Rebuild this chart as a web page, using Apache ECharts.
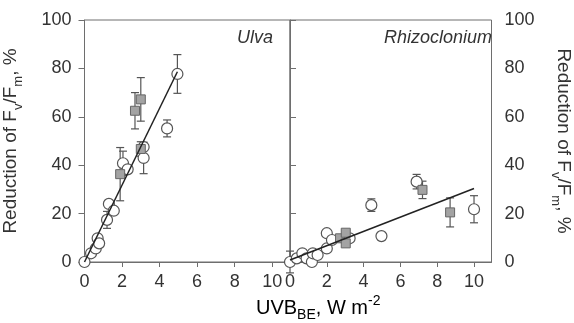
<!DOCTYPE html>
<html>
<head>
<meta charset="utf-8">
<script src="https://cdn.jsdelivr.net/npm/echarts@6/dist/echarts.min.js"></script>
<style>
html,body{margin:0;padding:0;background:#fff;}
#chart{width:574px;height:323px;}
</style>
</head>
<body>
<div id="chart"></div>
<script>
// ---- data ----
const xTicks = [0, 2, 4, 6, 8, 10];

// Ulva – circles
const ulvaCircleX   = [0, 0.35, 0.6, 0.7, 0.78, 1.2, 1.3, 1.56, 2.05, 2.3, 3.15, 3.15, 4.4, 4.95];
const ulvaCircleY   = [0, 3.6, 5.6, 9.8, 7.7, 17.4, 24, 21.2, 40.8, 38.3, 47.5, 43.0, 55.2, 77.7];
const ulvaCircleErr = [0, 0, 0, 0, 0, 3.5, 0, 0, 5, 0, 0, 6.5, 3.5, 8];
// Ulva – squares
const ulvaSquareX   = [1.9, 2.69, 3.0, 3.0];
const ulvaSquareY   = [36.3, 62.5, 67.2, 46.7];
const ulvaSquareErr = [11, 7.5, 9, 3];
// Ulva – regression line
const ulvaFitX = [0, 4.95];
const ulvaFitY = [0, 78.6];

// Rhizoclonium – circles
const rhizoCircleX   = [0, 0.37, 0.67, 0.9, 1.19, 1.24, 1.5, 2.0, 2.0, 2.28, 3.24, 4.97, 4.42, 6.88, 10.0];
const rhizoCircleY   = [0, 1.5, 3.6, 1.5, 0, 3.6, 2.9, 5.6, 11.9, 9.1, 9.8, 10.7, 23.5, 33.2, 21.8];
const rhizoCircleErr = [4.5, 0, 0, 0, 0, 0, 0, 0, 0, 0, 0, 0, 2.6, 3, 5.6];
// Rhizoclonium – squares
const rhizoSquareX   = [2.72, 3.03, 3.03, 7.2, 8.7];
const rhizoSquareY   = [9.8, 12.1, 7.7, 29.8, 20.5];
const rhizoSquareErr = [0, 0, 0, 3.6, 6];
// Rhizoclonium – regression line
const rhizoFitX = [0, 10];
const rhizoFitY = [0.8, 30.4];

const yTicksMin = 0, yTicksMax = 100, yTicksStep = 20;

// ---- chart ----
const FONT = '"Liberation Sans", Arial, Helvetica, sans-serif';
const AXIS_COLOR = '#6e6e6e';
const TEXT_COLOR = '#333';

function pts(xs, ys) { return xs.map((x, i) => [x, ys[i]]); }
function errData(xs, ys, es) {
  const out = [];
  xs.forEach((x, i) => { if (es[i] > 0) out.push([x, ys[i] - es[i], ys[i] + es[i]]); });
  return out;
}
function errSeries(xs, ys, es, gi) {
  return {
    type: 'custom', xAxisIndex: gi, yAxisIndex: gi, z: 2, clip: false,
    data: errData(xs, ys, es),
    encode: { x: 0, y: [1, 2] },
    renderItem: function (params, api) {
      const x = api.value(0);
      const lo = api.coord([x, api.value(1)]);
      const hi = api.coord([x, api.value(2)]);
      const w = 4;
      const st = { stroke: '#555', lineWidth: 1.2 };
      return {
        type: 'group',
        children: [
          { type: 'line', shape: { x1: lo[0], y1: lo[1], x2: hi[0], y2: hi[1] }, style: st },
          { type: 'line', shape: { x1: hi[0] - w, y1: hi[1], x2: hi[0] + w, y2: hi[1] }, style: st },
          { type: 'line', shape: { x1: lo[0] - w, y1: lo[1], x2: lo[0] + w, y2: lo[1] }, style: st }
        ]
      };
    }
  };
}
function circleSeries(xs, ys, gi) {
  return {
    type: 'scatter', xAxisIndex: gi, yAxisIndex: gi, z: 3, clip: false,
    symbol: 'circle', symbolSize: 11,
    itemStyle: { color: '#fff', borderColor: '#555', borderWidth: 1.2, opacity: 1 },
    data: pts(xs, ys)
  };
}
function squareSeries(xs, ys, gi) {
  return {
    type: 'scatter', xAxisIndex: gi, yAxisIndex: gi, z: 4, clip: false,
    symbol: 'rect', symbolSize: 9,
    itemStyle: { color: '#a3a3a3', borderColor: '#666', borderWidth: 1, opacity: 1 },
    data: pts(xs, ys)
  };
}
function fitSeries(xs, ys, gi) {
  return {
    type: 'line', xAxisIndex: gi, yAxisIndex: gi, z: 5, clip: false,
    symbol: 'none', silent: true,
    lineStyle: { color: '#222', width: 1.5 },
    data: pts(xs, ys)
  };
}

function xAxisOpt(gi) {
  return {
    type: 'value', gridIndex: gi, min: 0, max: 10.95,
    axisLine: { show: true, lineStyle: { color: AXIS_COLOR, width: 1 } },
    axisTick: { show: true, inside: false, length: 5, customValues: xTicks, lineStyle: { color: AXIS_COLOR } },
    axisLabel: { customValues: xTicks, fontSize: 18, color: TEXT_COLOR, fontFamily: FONT, margin: 11 },
    splitLine: { show: false }
  };
}

const nameRich = {
  a: { fontSize: 19, fontFamily: FONT, color: TEXT_COLOR, lineHeight: 28, verticalAlign: 'middle' },
  sub: { fontSize: 13, fontFamily: FONT, color: TEXT_COLOR, lineHeight: 28, verticalAlign: 'bottom' },
  sup: { fontSize: 13, fontFamily: FONT, color: TEXT_COLOR, lineHeight: 28, verticalAlign: 'top' }
};
const yName = '{a|Reduction of F}{sub|v}{a|/F}{sub|m}{a|, %}';

function yAxisOpt(gi, pos, rot, gap) {
  return {
    type: 'value', gridIndex: gi, position: pos,
    min: yTicksMin, max: yTicksMax, interval: yTicksStep,
    name: yName, nameLocation: 'middle', nameGap: gap, nameRotate: rot,
    nameTextStyle: { rich: nameRich, fontSize: 19, fontFamily: FONT, color: TEXT_COLOR },
    axisLine: { show: true, lineStyle: { color: AXIS_COLOR, width: 1 } },
    axisTick: { show: true, inside: false, length: 6, lineStyle: { color: AXIS_COLOR } },
    axisLabel: { fontSize: 18, color: TEXT_COLOR, fontFamily: FONT, margin: 13 },
    splitLine: { show: false }
  };
}

const chart = echarts.init(document.getElementById('chart'), null, { renderer: 'canvas' });
chart.setOption({
  animation: false,
  backgroundColor: '#fff',
  grid: [
    { left: 80, top: 20, width: 210, height: 242, show: true, borderColor: AXIS_COLOR, borderWidth: 1, backgroundColor: 'transparent' },
    { left: 290, top: 20, width: 210, height: 242, show: true, borderColor: AXIS_COLOR, borderWidth: 1, backgroundColor: 'transparent' }
  ],
  xAxis: [xAxisOpt(0), xAxisOpt(1)],
  yAxis: [
    yAxisOpt(0, 'left', 90, 60),
    yAxisOpt(1, 'right', -90, 58)
  ],
  graphic: [
    { type: 'text', left: 256, top: 294, z: 10,
      style: { text: '{a|UVB}{sub|BE}{a|, W m}{sup|-2}', rich: {
        a: { fontSize: 20, fontFamily: FONT, color: TEXT_COLOR, lineHeight: 28, verticalAlign: 'middle' },
        sub: { fontSize: 14, fontFamily: FONT, color: TEXT_COLOR, lineHeight: 28, verticalAlign: 'bottom' },
        sup: { fontSize: 14, fontFamily: FONT, color: TEXT_COLOR, lineHeight: 28, verticalAlign: 'top' }
      } } },
    { type: 'text', x: 273, y: 38, z: 10,
      style: { text: 'Ulva', fontSize: 18, fontStyle: 'italic', fontFamily: FONT, fill: '#333', align: 'right', verticalAlign: 'middle' } },
    { type: 'text', x: 492, y: 38, z: 10,
      style: { text: 'Rhizoclonium', fontSize: 18, fontStyle: 'italic', fontFamily: FONT, fill: '#333', align: 'right', verticalAlign: 'middle' } }
  ],
  series: [
    errSeries(ulvaCircleX, ulvaCircleY, ulvaCircleErr, 0),
    errSeries(ulvaSquareX, ulvaSquareY, ulvaSquareErr, 0),
    circleSeries(ulvaCircleX, ulvaCircleY, 0),
    squareSeries(ulvaSquareX, ulvaSquareY, 0),
    fitSeries(ulvaFitX, ulvaFitY, 0),
    errSeries(rhizoCircleX, rhizoCircleY, rhizoCircleErr, 1),
    errSeries(rhizoSquareX, rhizoSquareY, rhizoSquareErr, 1),
    circleSeries(rhizoCircleX, rhizoCircleY, 1),
    squareSeries(rhizoSquareX, rhizoSquareY, 1),
    fitSeries(rhizoFitX, rhizoFitY, 1)
  ]
});
</script>
</body>
</html>
